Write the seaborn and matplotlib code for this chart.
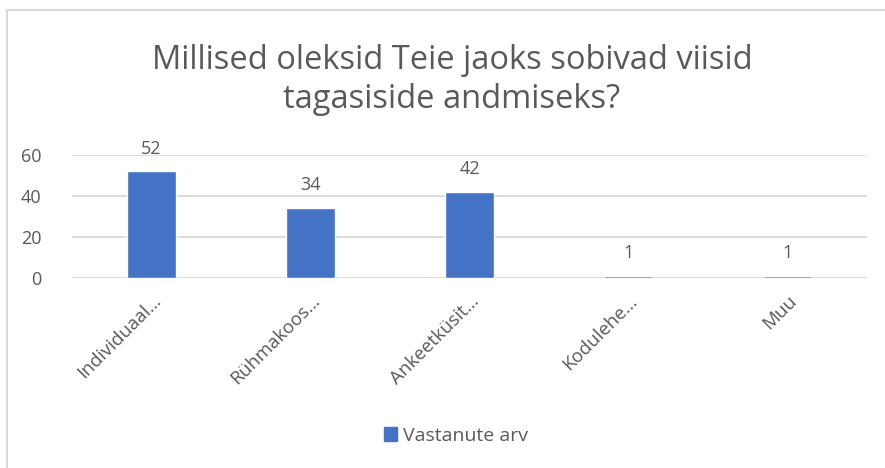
import numpy as np
import pandas as pd
from matplotlib import pyplot as plt
from matplotlib.lines import Line2D
import seaborn as sns

# andmed
categories = ["Individuaal…", "Rühmakoos…", "Ankeetküsit…", "Kodulehe…", "Muu"]
values = [52, 34, 42, 1, 1]
series_name = "Vastanute arv"
title = "Millised oleksid Teie jaoks sobivad viisid\ntagasiside andmiseks?"

bar_color = "#4472C4"
text_color = "#595959"
grid_color = "#D9D9D9"

sns.set_style("white")
plt.rcParams['font.family'] = ['Open Sans', 'DejaVu Sans']

df = pd.DataFrame({"kategooria": categories, "arv": values})

fig = plt.figure(figsize=(8.85, 4.68), dpi=100)
ax = fig.add_axes([72 / 885, 190 / 468, 795 / 885, 123 / 468])

sns.barplot(data=df, x="kategooria", y="arv", color=bar_color, width=0.31,
            saturation=1, ax=ax)

ax.set_ylim(0, 60)
ax.set_yticks([0, 20, 40, 60])
ax.yaxis.grid(True, color=grid_color, linewidth=1.3)
ax.set_axisbelow(True)
for s in ax.spines.values():
    s.set_visible(False)
ax.set_xlabel("")
ax.set_ylabel("")
ax.tick_params(axis="both", length=0, colors=text_color, labelsize=13)
ax.tick_params(axis="y", pad=22)
ax.tick_params(axis="x", labelsize=13.5, pad=10)
plt.setp(ax.get_xticklabels(), rotation=45, ha="right", rotation_mode="anchor")

# väärtuste sildid
for container in ax.containers:
    ax.bar_label(container, padding=10, color=text_color, fontsize=13)

fig.text(452 / 885, 1 - 80 / 468, title, ha="center", va="center",
         fontsize=23.5, color=text_color, linespacing=1.25)

# legend
leg = fig.legend(handles=[plt.Rectangle((0, 0), 1, 1, color=bar_color)],
                 labels=[series_name], loc="center", bbox_to_anchor=(456 / 885, 1 - 436 / 468),
                 frameon=False, fontsize=14, handlelength=0.7, handleheight=0.7,
                 handletextpad=0.3, labelcolor=text_color)

# raam
fig.add_artist(Line2D([7 / 885, 1], [1 - 10 / 468, 1 - 10 / 468], color=grid_color, linewidth=1.5))
fig.add_artist(Line2D([7 / 885, 7 / 885], [0, 1 - 10 / 468], color=grid_color, linewidth=1.5))

fig.savefig("out.png", dpi=100)
